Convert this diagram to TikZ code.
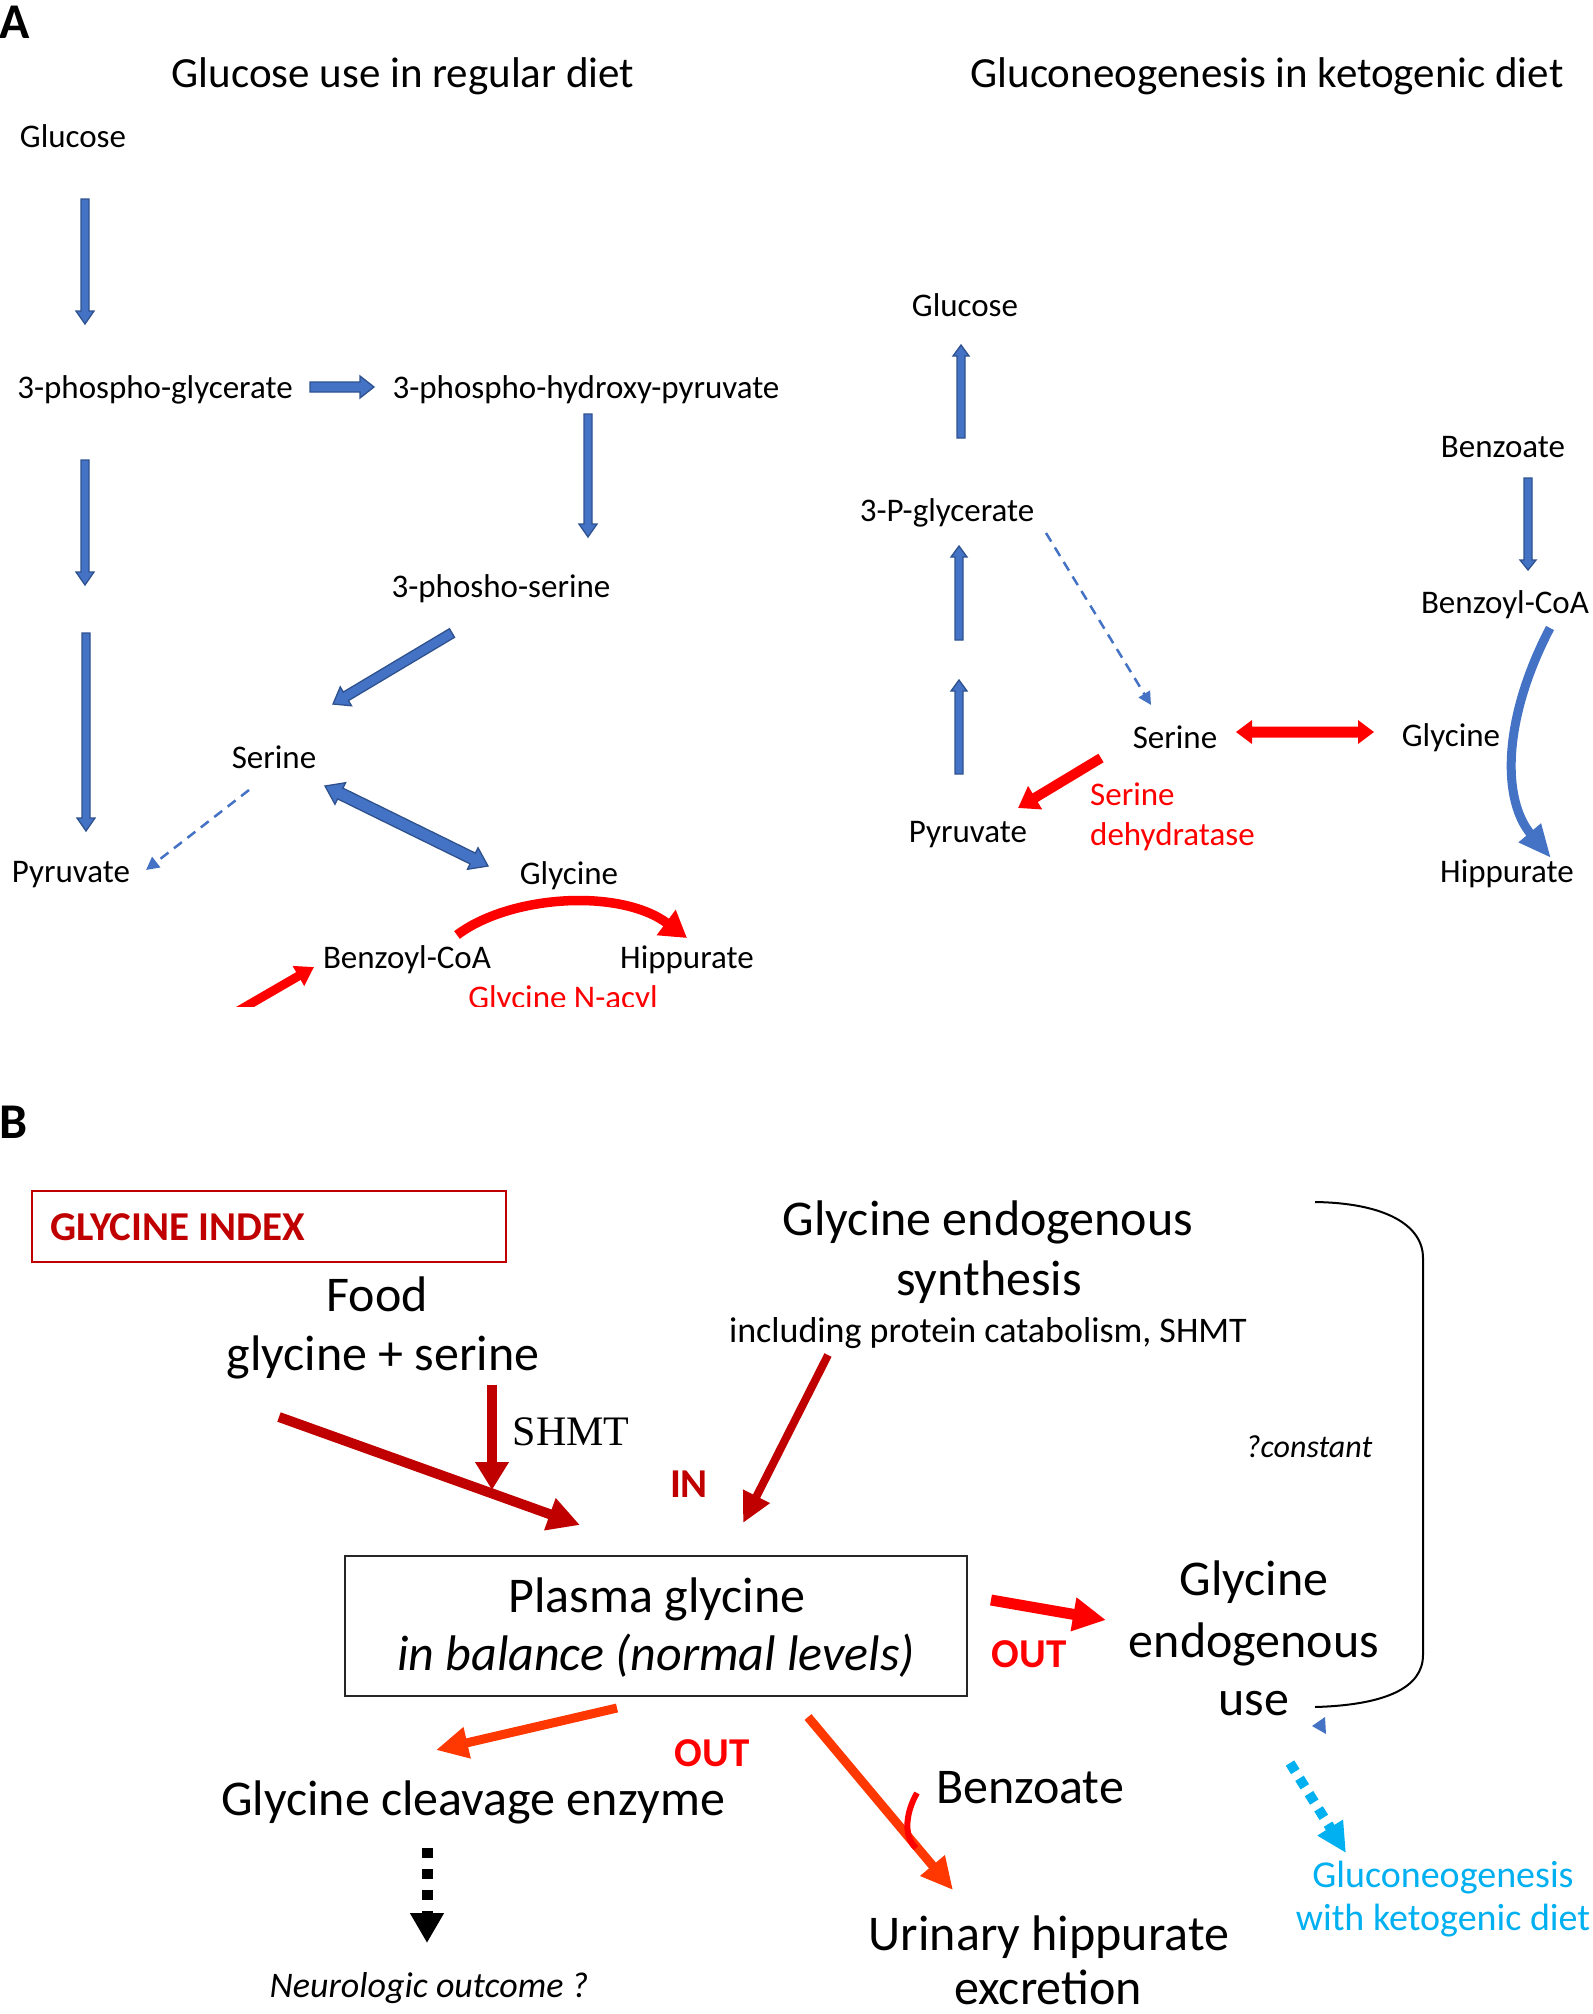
\documentclass[tikz,border=0pt]{standalone}
\usepackage{fontspec}
\setmainfont{Carlito}
\newfontfamily\timesfont{Liberation Serif}
\usetikzlibrary{arrows.meta,calc}
\definecolor{oblue}{RGB}{68,114,196}
\definecolor{oblueln}{RGB}{47,82,143}
\definecolor{ored}{RGB}{255,0,0}
\definecolor{dred}{RGB}{192,0,0}
\definecolor{orng}{RGB}{255,55,0}
\definecolor{ocyan}{RGB}{0,176,240}
% block arrow: [style]{from}{to}{shaft half width}{head half width}{head length}
\newcommand\blkarrow[6][blueblk]{%
  \coordinate (bkH) at ($(#3)!#6!(#2)$);
  \filldraw[#1] ($(#2)!#4!90:(#3)$) -- ($(bkH)!#4!90:(#3)$) -- ($(bkH)!#5!90:(#3)$) -- (#3)
     -- ($(bkH)!#5!-90:(#3)$) -- ($(bkH)!#4!-90:(#3)$) -- ($(#2)!#4!-90:(#3)$) -- cycle;}
\newcommand\blkdarrow[6][blueblk]{%
  \coordinate (bkH) at ($(#3)!#6!(#2)$);
  \coordinate (bkG) at ($(#2)!#6!(#3)$);
  \filldraw[#1] (#2) -- ($(bkG)!#5!90:(#3)$) -- ($(bkG)!#4!90:(#3)$) -- ($(bkH)!#4!90:(#3)$)
     -- ($(bkH)!#5!90:(#3)$) -- (#3) -- ($(bkH)!#5!-90:(#3)$) -- ($(bkH)!#4!-90:(#3)$)
     -- ($(bkG)!#4!-90:(#3)$) -- ($(bkG)!#5!-90:(#3)$) -- cycle;}
\begin{document}
\begin{tikzpicture}[x=1pt,y=-1pt,
  blueblk/.style={fill=oblue,draw=oblueln,line width=1.3pt,line join=miter},
  redblk/.style={fill=ored,draw=none},
  txt/.style={inner sep=0pt,anchor=base},
  lbl/.style={txt,font=\fontsize{33}{40}\selectfont},
  ttl/.style={txt,font=\fontsize{43}{52}\selectfont},
  big/.style={txt,font=\fontsize{50}{60}\selectfont},
  tag/.style={txt,font=\bfseries\fontsize{41}{50}\selectfont},
  panel/.style={txt,anchor=base west,font=\bfseries\fontsize{50}{60}\selectfont},
  gnlbl/.style={txt,text=ocyan,font=\fontsize{38}{46}\selectfont},
  bluedash/.style={draw=oblue,line width=2.5pt,dash pattern=on 10pt off 7pt,-{Triangle[length=13pt,width=13pt]}},
  redarr/.style={draw=ored,line width=10pt,-{Triangle[length=20pt,width=26pt]}},
  dredarr/.style={draw=dred,line width=10pt,-{Triangle[length=32pt,width=32pt]}},
  orarr/.style={draw=orng,line width=9pt,-{Triangle[length=32pt,width=30pt]}},
]
\useasboundingbox (0,0) rectangle (1593,2014);
\fill[white] (0,0) rectangle (1593,2014);

% ---------------- Panel A ----------------
\node[panel] (pA) at (-1,38) {A};
\node[ttl] (t1) at (403,87) {Glucose use in regular diet};
\node[ttl] (t2) at (1267,87) {Gluconeogenesis in ketogenic diet};

% left pathway
\node[lbl] (glcL) at (73,147) {Glucose};
\node[lbl] (pgL) at (155,398) {3-phospho-glycerate};
\node[lbl] (phpL) at (586,398) {3-phospho-hydroxy-pyruvate};
\node[lbl] (psL) at (501,597) {3-phosho-serine};
\node[lbl] (serL) at (274,768) {Serine};
\node[lbl] (pyrL) at (71,882) {Pyruvate};
\node[lbl] (glyL) at (569,884) {Glycine};
\node[lbl] (bzL) at (407,968) {Benzoyl-CoA};
\node[lbl] (hipL) at (687,968) {Hippurate};

\coordinate (a1s) at (85,199);  \coordinate (a1e) at (85,324);
\coordinate (a2s) at (310,387); \coordinate (a2e) at (374,387);
\coordinate (a3s) at (588,414); \coordinate (a3e) at (588,537);
\coordinate (a4s) at (85,460);  \coordinate (a4e) at (85,585);
\coordinate (a5s) at (86,633);  \coordinate (a5e) at (86,831);
\coordinate (a6s) at (452,633); \coordinate (a6e) at (333,704);
\coordinate (dsL) at (249,790); \coordinate (deL) at (146,870);
\coordinate (dbs) at (325,786); \coordinate (dbe) at (488,866);
\coordinate (rc1) at (457,935); \coordinate (rc2) at (687,938);
\coordinate (rb1) at (226,1018); \coordinate (rb2) at (314,967);

\blkarrow{a1s}{a1e}{4pt}{9pt}{13pt}
\blkarrow{a2s}{a2e}{5pt}{11pt}{14pt}
\blkarrow{a3s}{a3e}{4pt}{9pt}{13pt}
\blkarrow{a4s}{a4e}{4pt}{9pt}{13pt}
\blkarrow{a5s}{a5e}{4pt}{9pt}{13pt}
\blkarrow{a6s}{a6e}{5pt}{11pt}{15pt}
\blkdarrow{dbs}{dbe}{6pt}{12pt}{17pt}
\draw[bluedash] (dsL) -- (deL);
\draw[ored,line width=9.5pt,-{Triangle[length=26pt,width=30pt]}] (rc1) .. controls (510,895) and (620,888) .. (rc2);

\begin{scope}
  \clip (0,0) rectangle (1593,1006);
  \draw[ored,line width=9pt,-{Triangle[length=18pt,width=22pt]}] (rb1) -- (rb2);
  \node[lbl,text=ored] (gna) at (563,1008) {Glycine N-acyl};
\end{scope}

% right pathway
\node[lbl] (glcR) at (965,316) {Glucose};
\node[lbl] (bztR) at (1503,457) {Benzoate};
\node[lbl] (pgR) at (947,521) {3-P-glycerate};
\node[lbl] (bzR) at (1505,613) {Benzoyl-CoA};
\node[lbl] (serR) at (1175,748) {Serine};
\node[lbl] (glyR) at (1451,746) {Glycine};
\node[lbl,anchor=base west,text=ored] (sdh1) at (1090,805) {Serine};
\node[lbl,anchor=base west,text=ored] (sdh2) at (1090,845) {dehydratase};
\node[lbl] (pyrR) at (968,842) {Pyruvate};
\node[lbl] (hipR) at (1507,882) {Hippurate};

\coordinate (u1s) at (961,438); \coordinate (u1e) at (961,345);
\coordinate (u2s) at (959,640); \coordinate (u2e) at (959,546);
\coordinate (u3s) at (959,774); \coordinate (u3e) at (959,680);
\coordinate (bds) at (1528,478); \coordinate (bde) at (1528,570);
\coordinate (dsR) at (1046,533); \coordinate (deR) at (1151,705);
\coordinate (rd1) at (1236,732); \coordinate (rd2) at (1374,732);
\coordinate (bc1) at (1550,628); \coordinate (bc2) at (1551,858);
\coordinate (rs1) at (1101,758); \coordinate (rs2) at (1018,808);

\blkarrow{u1s}{u1e}{4pt}{8pt}{11pt}
\blkarrow{u2s}{u2e}{4pt}{8pt}{11pt}
\blkarrow{u3s}{u3e}{4pt}{8pt}{11pt}
\blkarrow{bds}{bde}{4pt}{8pt}{10pt}
\draw[bluedash] (dsR) -- (deR);
\blkdarrow[redblk]{rd1}{rd2}{5.5pt}{12pt}{16pt}
\draw[oblue,line width=9pt,-{Triangle[length=33pt,width=27pt]}] (bc1) .. controls (1502,720) and (1502,800) .. (bc2);
\draw[redarr] (rs1) -- (rs2);

% ---------------- Panel B ----------------
\node[panel] (pB) at (-1,1138) {B};
\node[draw=dred,line width=1.5pt,minimum width=474pt,minimum height=71pt,inner sep=0pt] (gibox) at (269,1226.5) {};
\node[tag,anchor=base west,text=dred] (gi) at (50,1240) {GLYCINE INDEX};

\node[big] (food1) at (377,1311) {Food};
\node[big] (food2) at (383,1370) {glycine + serine};
\node[big] (ges1) at (988,1235) {Glycine endogenous};
\node[big] (ges2) at (989,1295) {synthesis};
\node[txt,font=\fontsize{36}{43}\selectfont] (ges3) at (988,1342) {including protein catabolism, SHMT};
\node[txt,font=\itshape\fontsize{32}{38}\selectfont] (const) at (1309,1457) {?constant};
\node[txt,font=\timesfont\fontsize{42}{50}\selectfont] (shmt) at (571,1445) {SHMT};
\node[tag,text=dred] (in) at (689,1497) {IN};

\node[draw=black!85,line width=2pt,minimum width=622pt,minimum height=140pt,inner sep=0pt] (plasma) at (656,1626) {};
\node[big] (pl1) at (657,1612) {Plasma glycine};
\node[big,font=\itshape\fontsize{50}{60}\selectfont] (pl2) at (656,1670) {in balance (normal levels)};

\node[big] (geu1) at (1254,1595) {Glycine};
\node[big] (geu2) at (1254,1657) {endogenous};
\node[big] (geu3) at (1254,1715) {use};
\node[tag,text=ored] (out1) at (1029,1667) {OUT};
\node[tag,text=ored] (out2) at (712,1766) {OUT};
\node[big] (gcl) at (473,1815) {Glycine cleavage enzyme};
\node[txt,font=\itshape\fontsize{36}{42}\selectfont] (neuro) at (429,1997) {Neurologic outcome ?};
\node[big] (bzB) at (1030,1803) {Benzoate};
\node[big] (uh1) at (1049,1950) {Urinary hippurate};
\node[big] (uh2) at (1048,2004) {excretion};
\node[gnlbl] (gn1) at (1443,1887) {Gluconeogenesis};
\node[gnlbl] (gn2) at (1443,1930) {with ketogenic diet};

\coordinate (f1) at (279,1417);  \coordinate (f2) at (580,1525);
\coordinate (s1) at (492,1385);  \coordinate (s2) at (492,1490);
\coordinate (e1) at (828,1355);  \coordinate (e2) at (743,1523);
\coordinate (o1) at (991,1600);  \coordinate (o2) at (1106,1620);
\coordinate (c1) at (617,1708);  \coordinate (c2) at (436,1750);
\coordinate (h1) at (808,1717);  \coordinate (h2) at (953,1890);
\coordinate (bi1) at (917,1793); \coordinate (bi2) at (916,1848);
\coordinate (k1) at (427,1848);  \coordinate (k2) at (427,1943);
\coordinate (g1) at (1290,1763); \coordinate (g2) at (1346,1853);
\coordinate (br1) at (1315,1202); \coordinate (br2) at (1315,1707);

\draw[dredarr] (f1) -- (f2);
\draw[dredarr,line width=10pt,-{Triangle[length=28pt,width=32pt]}] (s1) -- (s2);
\draw[dredarr,line width=8pt,-{Triangle[length=30pt,width=28pt]}] (e1) -- (e2);
\draw[ored,line width=11pt,-{Triangle[length=33pt,width=32pt]}] (o1) -- (o2);
\draw[orarr] (c1) -- (c2);
\draw[orarr] (h1) -- (h2);
\draw[ored,line width=6pt] (bi1) .. controls (907,1810) and (902,1835) .. (bi2);
\draw[black,line width=11pt,dash pattern=on 10pt off 11pt,-{Triangle[length=30pt,width=32pt]}] (k1) -- (k2);
\draw[ocyan,line width=10pt,dash pattern=on 10pt off 8pt,-{Triangle[length=30pt,width=28pt]}] (g1) -- (g2);
\draw[black,line width=2pt] (br1) .. controls (1385,1203) and (1423,1225) .. (1423,1258) -- (1423,1655) .. controls (1423,1688) and (1385,1705) .. (br2);
\fill[oblue] (1312,1726) -- (1325,1717) -- (1326,1734) -- cycle;
\end{tikzpicture}
\end{document}
